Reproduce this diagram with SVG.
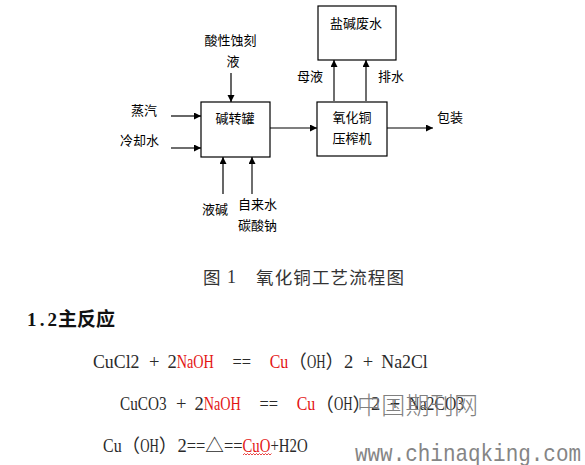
<svg xmlns="http://www.w3.org/2000/svg" width="585" height="465" viewBox="0 0 585 465">
<style>
.box{fill:#fff;stroke:#000;stroke-width:1.2}
.t{font-family:"Noto Sans CJK SC","Noto Sans",sans-serif;font-size:13px;fill:#000}
.ln{stroke:#000;stroke-width:1.2;fill:none}
.lg{stroke:#6e6e6e;stroke-width:2;fill:none}
.eq{font-family:"Liberation Serif",serif;font-size:18.5px;fill:#2a2a2a}
.cj{font-family:"Noto Sans CJK SC",sans-serif;font-size:18.6px;fill:#2a2a2a}
.r{fill:#e31414}
.cap{font-family:"Noto Sans CJK SC",sans-serif;font-size:17.5px;fill:#333}
.capl{font-family:"Liberation Serif",serif;font-size:18px;fill:#333}
.wm{font-family:"Noto Sans CJK SC",sans-serif;font-size:24px;font-weight:300;fill:#808080}
.url{font-family:"Liberation Mono",monospace;font-size:24px;fill:#858585}
</style>
<defs>
<marker id="ah" markerUnits="userSpaceOnUse" markerWidth="8" markerHeight="8" refX="7" refY="3.5" orient="auto">
<path d="M0,0 L7,3.5 L0,7 z" fill="#000"/>
</marker>
</defs>
<rect width="585" height="465" fill="#fff"/>

<g id="connectors">
<line class="ln" x1="171" y1="116" x2="201" y2="116" marker-end="url(#ah)"/>
<line class="lg" x1="171" y1="148" x2="201" y2="148" marker-end="url(#ah)"/>
<line class="ln" x1="231" y1="73" x2="231" y2="102" marker-end="url(#ah)"/>
<line class="ln" x1="223" y1="194" x2="223" y2="157" marker-end="url(#ah)"/>
<line class="lg" x1="252" y1="194" x2="252" y2="157" marker-end="url(#ah)"/>
<line class="ln" x1="270" y1="128" x2="317" y2="128" marker-end="url(#ah)"/>
<line class="ln" x1="387" y1="128" x2="433" y2="128" marker-end="url(#ah)"/>
<line class="lg" x1="334" y1="101" x2="334" y2="60" marker-end="url(#ah)"/>
<line class="lg" x1="366" y1="101" x2="366" y2="60" marker-end="url(#ah)" stroke="#4a4a4a"/>
</g>

<g id="waste">
<rect class="box" x="318" y="6" width="78" height="54"/>
<text class="t" x="356" y="28" text-anchor="middle">盐碱废水</text>
</g>
<g id="tank">
<rect class="box" x="201" y="102" width="69" height="55"/>
<text class="t" x="235" y="123" text-anchor="middle">碱转罐</text>
</g>
<g id="press">
<rect class="box" x="317" y="102" width="70" height="54"/>
<text class="t" x="352" y="122" text-anchor="middle">氧化铜</text>
<text class="t" x="352" y="143" text-anchor="middle">压榨机</text>
</g>
<g id="labels">
<text class="t" x="230.5" y="45" text-anchor="middle">酸性蚀刻</text>
<text class="t" x="233" y="66" text-anchor="middle">液</text>
<text class="t" x="131" y="115">蒸汽</text>
<text class="t" x="120" y="145">冷却水</text>
<text class="t" x="437" y="122">包装</text>
<text class="t" x="297" y="81">母液</text>
<text class="t" x="378" y="81">排水</text>
<text class="t" x="202" y="214">液碱</text>
<text class="t" x="238" y="209">自来水</text>
<text class="t" x="238" y="230">碳酸钠</text>
</g>

<g id="caption">
<text class="cap" x="203" y="284">图</text>
<text class="capl" x="227" y="283">1</text>
<text class="cap" x="256" y="284" textLength="148" lengthAdjust="spacing">氧化铜工艺流程图</text>
</g>

<g id="heading">
<text x="27" y="326" font-family="Liberation Serif,serif" font-weight="bold" font-size="19" fill="#111" textLength="30" lengthAdjust="spacing">1.2</text>
<text x="58" y="326" font-family="Noto Sans CJK SC,sans-serif" font-weight="bold" font-size="19" fill="#111">主反应</text>
</g>

<g id="eq1">
<text class="eq" x="93" y="367.5" textLength="46.5" lengthAdjust="spacingAndGlyphs">CuCl2</text>
<text class="eq" x="149" y="367.5">+</text>
<text class="eq" x="167.4" y="367.5">2</text>
<text class="eq r" x="176.7" y="367.5" textLength="37.2" lengthAdjust="spacingAndGlyphs">NaOH</text>
<text class="eq" x="232.5" y="367.5" textLength="18.6" lengthAdjust="spacingAndGlyphs">==</text>
<text class="eq r" x="269.7" y="367.5" textLength="18.6" lengthAdjust="spacingAndGlyphs">Cu</text>
<text class="cj" x="288.3" y="368">（</text>
<text class="eq" x="306.9" y="367.5" textLength="18.6" lengthAdjust="spacingAndGlyphs">OH</text>
<text class="cj" x="325.5" y="368">）</text>
<text class="eq" x="344.1" y="367.5">2</text>
<text class="eq" x="362.7" y="367.5">+</text>
<text class="eq" x="381.3" y="367.5" textLength="46.5" lengthAdjust="spacingAndGlyphs">Na2Cl</text>
</g>

<g id="eq2">
<text class="eq" x="120" y="410" textLength="46.5" lengthAdjust="spacingAndGlyphs">CuCO3</text>
<text class="eq" x="176" y="410">+</text>
<text class="eq" x="194.4" y="410">2</text>
<text class="eq r" x="203.7" y="410" textLength="37.2" lengthAdjust="spacingAndGlyphs">NaOH</text>
<text class="eq" x="259.5" y="410" textLength="18.6" lengthAdjust="spacingAndGlyphs">==</text>
<text class="eq r" x="296.7" y="410" textLength="18.6" lengthAdjust="spacingAndGlyphs">Cu</text>
<text class="cj" x="315.3" y="410.5">（</text>
<text class="eq" x="333.9" y="410" textLength="18.6" lengthAdjust="spacingAndGlyphs">OH</text>
<text class="cj" x="352.5" y="410.5">）</text>
<text class="eq" x="371.1" y="410">2</text>
<text class="eq" x="389.7" y="410">+</text>
<text class="eq" x="408.3" y="410" textLength="55.8" lengthAdjust="spacingAndGlyphs">Na2CO3</text>
</g>

<g id="eq3">
<text class="eq" x="103" y="451.5" textLength="18.6" lengthAdjust="spacingAndGlyphs">Cu</text>
<text class="cj" x="121.6" y="452">（</text>
<text class="eq" x="140.2" y="451.5" textLength="18.6" lengthAdjust="spacingAndGlyphs">OH</text>
<text class="cj" x="158.8" y="452">）</text>
<text class="eq" x="177.4" y="451.5">2</text>
<text class="eq" x="186.7" y="451.5" textLength="18.6" lengthAdjust="spacingAndGlyphs">==</text>
<text class="cj" x="205.3" y="452">△</text>
<text class="eq" x="223.9" y="451.5" textLength="18.6" lengthAdjust="spacingAndGlyphs">==</text>
<text class="eq r" x="242.5" y="451.5" textLength="27.9" lengthAdjust="spacingAndGlyphs">CuO</text>
<text class="eq" x="270.4" y="451.5" textLength="37.2" lengthAdjust="spacingAndGlyphs">+H2O</text>
<path d="M243,455 l1.5,-1.5 l1.5,1.5 l1.5,-1.5 l1.5,1.5 l1.5,-1.5 l1.5,1.5 l1.5,-1.5 l1.5,1.5 l1.5,-1.5 l1.5,1.5 l1.5,-1.5 l1.5,1.5 l1.5,-1.5 l1.5,1.5 l1.5,-1.5 l1.5,1.5 l1.5,-1.5 l1.5,1.5 l1.5,-1.5" fill="none" stroke="#e31414" stroke-width="0.8"/>
</g>

<g id="watermark">
<text class="wm" x="357" y="414" textLength="121" lengthAdjust="spacing">中国期刊网</text>
<text class="url" x="355" y="461" textLength="226" lengthAdjust="spacingAndGlyphs">www.chinaqking.com</text>
</g>
</svg>
